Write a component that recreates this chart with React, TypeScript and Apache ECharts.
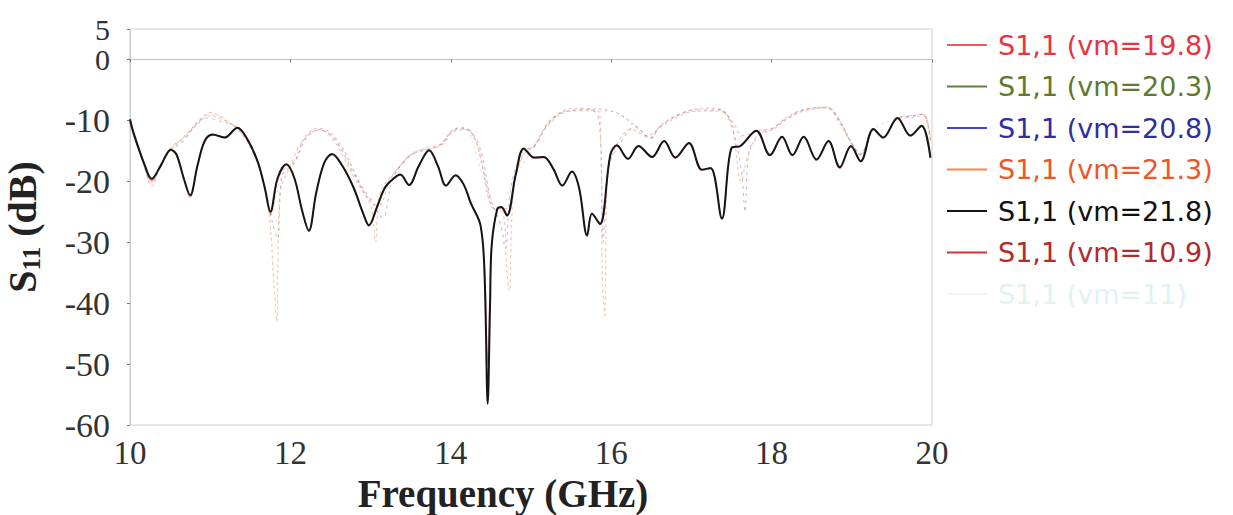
import React, { useEffect, useRef } from "react";
import * as echarts from "echarts";

// ---- data (frequency GHz, S11 dB) ----
const xTicks = [10, 12, 14, 16, 18, 20];
const yTicks = [-60, -50, -40, -30, -20, -10];
const yTopTicks = [0, 5];

const s11_vm198: [number, number][] = [
  [10.0, -10.5], [10.05, -12.3], [10.18, -17.5], [10.27, -20.8], [10.38, -17.3], [10.51, -14.5], [10.64, -13.1],
  [10.76, -11.5], [10.88, -9.8], [11.0, -8.7], [11.12, -9.3], [11.25, -10.5], [11.34, -11.2], [11.46, -13.0],
  [11.59, -16.7], [11.68, -21.0], [11.76, -25.5], [11.84, -20.0], [11.92, -18.0], [12.05, -16.7], [12.19, -12.5],
  [12.36, -11.3], [12.5, -12.0], [12.65, -14.5], [12.8, -18.5], [12.95, -22.5], [13.1, -24.0], [13.25, -19.5],
  [13.4, -17.0], [13.5, -15.6], [13.7, -14.5], [13.87, -13.9], [14.04, -11.4], [14.16, -11.2], [14.3, -13.0],
  [14.42, -19.0], [14.55, -24.5], [14.7, -24.5], [14.81, -18.9], [14.92, -15.5], [15.04, -14.2], [15.2, -10.6],
  [15.41, -8.4], [15.6, -8.0], [15.74, -8.1], [15.99, -8.4], [16.2, -9.8], [16.35, -11.5], [16.49, -12.8],
  [16.61, -10.9], [16.86, -8.9], [17.03, -8.2], [17.2, -8.0], [17.36, -8.2], [17.5, -10.0], [17.65, -12.5],
  [17.81, -11.7], [18.02, -11.2], [18.19, -9.5], [18.4, -8.2], [18.69, -7.8], [18.85, -10.0], [18.99, -13.5],
  [19.11, -15.5], [19.27, -11.4], [19.39, -12.8], [19.57, -9.6], [19.77, -9.2], [19.89, -8.9], [19.98, -13.0],
];

const s11_vm203: [number, number][] = [
  [10.0, -10.3], [10.15, -16.5], [10.27, -20.0], [10.45, -15.5], [10.64, -13.4], [10.85, -10.2], [11.0, -9.0],
  [11.34, -11.2], [11.59, -16.5], [11.76, -24.5], [11.92, -18.2], [12.19, -12.8], [12.36, -11.5], [12.7, -16.0],
  [13.0, -23.0], [13.25, -19.6], [13.5, -15.8], [13.87, -14.0], [14.04, -11.5], [14.16, -11.3], [14.4, -19.0],
  [14.6, -25.0], [14.81, -19.0], [15.04, -14.4], [15.2, -10.8], [15.41, -8.5], [15.99, -8.5], [16.49, -12.9],
  [16.61, -11.0], [16.86, -9.0], [17.36, -8.3], [17.65, -12.8], [18.02, -11.3], [18.4, -8.3], [18.69, -7.9],
  [18.99, -13.6], [19.11, -15.6], [19.27, -11.5], [19.57, -9.7], [19.89, -9.0], [19.98, -13.1],
];

const s11_vm208: [number, number][] = [
  [10.0, -10.2], [10.12, -15.0], [10.27, -19.8], [10.4, -17.0], [10.53, -14.6], [10.66, -13.5], [10.8, -11.0],
  [10.95, -9.6], [11.1, -10.0], [11.34, -11.3], [11.55, -15.8], [11.7, -22.0], [11.78, -27.0], [11.84, -29.4],
  [11.9, -19.0], [12.05, -17.0], [12.2, -12.8], [12.36, -11.6], [12.55, -13.0], [12.8, -19.0], [13.0, -23.0],
  [13.15, -26.0], [13.28, -19.5], [13.5, -15.8], [13.87, -14.0], [14.04, -11.6], [14.18, -11.4], [14.35, -14.0],
  [14.5, -23.0], [14.62, -27.0], [14.68, -31.0], [14.75, -21.0], [14.9, -15.0], [15.04, -14.3], [15.2, -10.8],
  [15.41, -8.6], [15.74, -8.2], [15.85, -10.0], [15.9, -30.0], [15.96, -18.0], [16.1, -14.0], [16.3, -11.0],
  [16.49, -13.0], [16.61, -11.0], [16.86, -9.0], [17.03, -8.3], [17.36, -8.3], [17.5, -11.0], [17.62, -18.0],
  [17.67, -25.0], [17.72, -15.0], [17.85, -12.5], [18.02, -11.3], [18.19, -9.6], [18.4, -8.3], [18.69, -7.9],
  [18.85, -10.2], [18.99, -13.6], [19.11, -15.6], [19.27, -11.5], [19.39, -12.9], [19.57, -9.7], [19.77, -9.3],
  [19.89, -9.0], [19.98, -13.2],
];

const s11_vm213: [number, number][] = [
  [10.0, -10.8], [10.1, -14.0], [10.27, -20.2], [10.4, -16.8], [10.55, -14.2], [10.7, -12.5], [10.85, -10.5],
  [11.0, -9.2], [11.2, -10.2], [11.34, -11.4], [11.55, -15.5], [11.72, -24.0], [11.8, -38.0], [11.83, -43.0],
  [11.87, -22.0], [12.0, -17.5], [12.15, -13.5], [12.36, -11.5], [12.55, -13.5], [12.8, -19.5], [13.0, -24.0],
  [13.06, -30.0], [13.12, -22.0], [13.3, -18.5], [13.55, -15.2], [13.87, -14.2], [14.04, -11.8], [14.2, -11.5],
  [14.35, -15.0], [14.5, -24.0], [14.65, -25.0], [14.7, -35.0], [14.73, -38.0], [14.78, -22.0], [14.9, -15.5],
  [15.05, -14.0], [15.2, -11.0], [15.4, -8.8], [15.7, -8.3], [15.86, -9.0], [15.89, -36.0], [15.92, -42.0],
  [15.95, -20.0], [16.05, -14.5], [16.25, -11.5], [16.45, -12.5], [16.61, -11.2], [16.86, -9.2], [17.03, -8.5],
  [17.36, -8.5], [17.5, -10.5], [17.62, -20.0], [17.7, -16.0], [17.85, -12.0], [18.02, -11.5], [18.19, -9.8],
  [18.4, -8.5], [18.69, -8.0], [18.85, -10.5], [19.0, -13.8], [19.11, -15.8], [19.27, -11.6], [19.39, -13.0],
  [19.57, -9.8], [19.77, -9.5], [19.89, -9.2], [19.98, -13.5],
];

const s11_vm218: [number, number][] = [
  [10.0, -9.8], [10.05, -12.3], [10.18, -17.2], [10.27, -19.6], [10.38, -17.5], [10.51, -14.8], [10.58, -15.6],
  [10.67, -19.5], [10.75, -22.3], [10.84, -17.5], [10.93, -13.4], [11.03, -12.3], [11.18, -12.8], [11.34, -11.2],
  [11.46, -13.0], [11.59, -16.7], [11.68, -21.0], [11.75, -25.0], [11.84, -19.5], [11.95, -17.2], [12.05, -19.5],
  [12.15, -25.0], [12.23, -28.1], [12.32, -22.0], [12.42, -17.0], [12.52, -15.5], [12.65, -17.5], [12.79, -21.1],
  [12.9, -25.0], [12.98, -27.2], [13.08, -24.2], [13.18, -21.0], [13.29, -19.5], [13.37, -18.9], [13.48, -20.6],
  [13.6, -17.5], [13.73, -14.9], [13.84, -17.5], [13.94, -20.7], [14.06, -19.0], [14.16, -20.5], [14.25, -23.6],
  [14.37, -27.2], [14.42, -35.0], [14.46, -56.5], [14.49, -40.0], [14.51, -30.5], [14.58, -24.5], [14.63, -24.2],
  [14.7, -25.6], [14.81, -18.9], [14.91, -14.6], [15.04, -16.1], [15.16, -16.0], [15.28, -18.0], [15.39, -20.7],
  [15.51, -18.4], [15.6, -21.1], [15.7, -28.9], [15.76, -25.3], [15.86, -27.0], [15.99, -15.6], [16.07, -14.1],
  [16.21, -16.3], [16.34, -14.2], [16.51, -16.0], [16.66, -13.4], [16.8, -16.1], [16.97, -13.7], [17.13, -18.1],
  [17.24, -17.8], [17.38, -26.1], [17.5, -14.5], [17.61, -14.2], [17.81, -11.7], [17.98, -15.7], [18.13, -12.7],
  [18.26, -15.7], [18.4, -12.7], [18.56, -16.4], [18.71, -13.4], [18.85, -17.7], [18.99, -14.2], [19.11, -16.7],
  [19.27, -11.4], [19.39, -12.8], [19.57, -9.6], [19.73, -12.5], [19.87, -10.9], [19.98, -16.1],
];

const s11_vm109: [number, number][] = [
  [10.0, -10.2], [10.05, -12.6], [10.18, -17.4], [10.27, -19.9], [10.38, -17.6], [10.51, -14.9], [10.58, -15.8],
  [10.67, -19.6], [10.75, -22.6], [10.84, -17.6], [10.93, -13.6], [11.03, -12.4], [11.18, -12.9], [11.34, -11.3],
  [11.46, -13.1], [11.59, -16.8], [11.68, -21.2], [11.75, -25.4], [11.84, -19.7], [11.95, -17.3], [12.05, -19.6],
  [12.15, -25.1], [12.23, -28.2], [12.32, -22.1], [12.42, -17.1], [12.52, -15.6], [12.65, -17.6], [12.79, -21.2],
  [12.9, -25.1], [12.98, -27.4], [13.08, -24.3], [13.18, -21.1], [13.29, -19.6], [13.37, -19.0], [13.48, -20.7],
  [13.6, -17.6], [13.73, -15.0], [13.84, -17.6], [13.94, -20.8], [14.06, -19.1], [14.16, -20.6], [14.25, -23.7],
  [14.37, -27.3], [14.42, -34.0], [14.46, -50.0], [14.49, -38.0], [14.51, -30.3], [14.58, -24.6], [14.63, -24.3],
  [14.7, -25.7], [14.81, -19.0], [14.91, -14.7], [15.04, -16.2], [15.16, -16.1], [15.28, -18.1], [15.39, -20.8],
  [15.51, -18.5], [15.6, -21.2], [15.7, -29.0], [15.76, -25.4], [15.86, -27.1], [15.99, -15.7], [16.07, -14.2],
  [16.21, -16.4], [16.34, -14.3], [16.51, -16.1], [16.66, -13.5], [16.8, -16.2], [16.97, -13.8], [17.13, -18.2],
  [17.24, -17.9], [17.38, -26.3], [17.5, -14.6], [17.61, -14.3], [17.81, -11.8], [17.98, -15.8], [18.13, -12.8],
  [18.26, -15.8], [18.4, -12.8], [18.56, -16.6], [18.71, -13.5], [18.85, -17.9], [18.99, -14.3], [19.11, -16.8],
  [19.27, -11.5], [19.39, -12.9], [19.57, -9.7], [19.73, -12.6], [19.87, -11.0], [19.98, -16.2],
];

const s11_vm11: [number, number][] = [];

const seriesNames = [
  "S1,1 (vm=19.8)",
  "S1,1 (vm=20.3)",
  "S1,1 (vm=20.8)",
  "S1,1 (vm=21.3)",
  "S1,1 (vm=21.8)",
  "S1,1 (vm=10.9)",
  "S1,1 (vm=11)",
];
const seriesData = [s11_vm198, s11_vm203, s11_vm208, s11_vm213, s11_vm218, s11_vm109, s11_vm11];
const lineColors = ["#ee5a5a", "#5f7f45", "#4545c0", "#f28a40", "#151515", "#c83838", "#eef7f9"];
const textColors = ["#e8343f", "#5f7a2e", "#2f2f9f", "#e8582a", "#111111", "#b22a2a", "#e2f1f4"];
const lineOpacity = [0.4, 0.25, 0.35, 0.45, 1, 0.5, 0.3];
const lineWidths = [1.2, 1, 1.1, 1.2, 2, 1.3, 1];
const lineTypes: any[] = [[3, 3], [2, 4], [3, 4], [3, 3], "solid", "solid", "solid"];

export default function App() {
  const ref = useRef<HTMLDivElement>(null);
  useEffect(() => {
    if (!ref.current) return;
    const chart = echarts.init(ref.current, undefined, { renderer: "svg" });
    const serif = "'Liberation Serif', 'Times New Roman', serif";
    const yLabelStyle = {
      margin: 20,
      fontFamily: serif,
      fontSize: 34,
      lineHeight: 20,
      color: "#333",
      showMaxLabel: true,
      showMinLabel: true,
      hideOverlap: false,
      formatter: (v: number) => String(v),
    };
    chart.setOption({
      animation: false,
      backgroundColor: "#ffffff",
      grid: {
        left: 130,
        right: 301,
        top: 29,
        bottom: 90,
        show: true,
        borderColor: "#cfcfcf",
        borderWidth: 1,
        outerBoundsMode: "none",
        containLabel: false,
      },
      legend: {
        orient: "vertical",
        left: 942,
        top: 25,
        icon: "rect",
        itemWidth: 40,
        itemHeight: 2,
        itemGap: 11.5,
        data: seriesNames.map((n, i) => ({
          name: n,
          textStyle: { color: textColors[i] },
        })),
        textStyle: {
          fontFamily: "'DejaVu Sans', sans-serif",
          fontSize: 27,
          lineHeight: 30,
          padding: [0, 0, 0, 6],
        },
      },
      xAxis: {
        type: "value",
        min: 10,
        max: 20,
        interval: 2,
        name: "Frequency (GHz)",
        nameLocation: "middle",
        nameGap: 50,
        nameMoveOverlap: false,
        nameTextStyle: {
          fontFamily: serif,
          fontWeight: "bold",
          fontSize: 39,
          lineHeight: 36,
          color: "#222",
          padding: [0, 56, 0, 0],
        },
        axisLine: { show: true, lineStyle: { color: "#b5b5b5", type: "dotted", width: 1 } },
        axisTick: { show: true, length: 3, lineStyle: { color: "#777" } },
        splitLine: { show: false },
        axisLabel: {
          margin: 16,
          fontFamily: serif,
          fontSize: 33,
          lineHeight: 24,
          color: "#333",
          formatter: (v: number) => (xTicks.includes(v) ? String(v) : ""),
        },
      },
      yAxis: [
        {
          type: "value",
          min: -60,
          max: 5,
          interval: 10,
          name: "{s|S}{sub|11}{s| (dB)}",
          nameLocation: "middle",
          nameGap: 86,
          nameMoveOverlap: false,
          nameTextStyle: {
            rich: {
              s: { fontFamily: serif, fontWeight: "bold", fontSize: 40, color: "#222" },
              sub: {
                fontFamily: serif,
                fontWeight: "bold",
                fontSize: 25,
                color: "#222",
                padding: [18, 0, 0, 0],
              },
            },
          },
          axisLine: { show: true, lineStyle: { color: "#c8c8c8", type: "dotted", width: 1 } },
          axisTick: { show: true, length: 3, customValues: yTicks, lineStyle: { color: "#777" } },
          splitLine: { show: false },
          axisLabel: { ...yLabelStyle, customValues: yTicks },
        },
        {
          type: "value",
          position: "left",
          min: -60,
          max: 5,
          interval: 10,
          axisLine: { show: false },
          axisTick: { show: true, length: 3, customValues: yTopTicks, lineStyle: { color: "#777" } },
          splitLine: { show: false },
          axisLabel: { ...yLabelStyle, fontSize: 30, customValues: yTopTicks },
        },
      ],
      series: seriesNames.map((n, i) => ({
        name: n,
        type: "line",
        data: seriesData[i],
        yAxisIndex: 0,
        symbol: "none",
        smooth: 0.35,
        z: i === 4 ? 10 : 2 + i * 0.1,
        itemStyle: { color: lineColors[i] },
        lineStyle: {
          color: lineColors[i],
          width: lineWidths[i],
          opacity: lineOpacity[i],
          type: lineTypes[i],
        },
      })),
    });
    return () => chart.dispose();
  }, []);
  return (
    <div
      ref={ref}
      style={{ position: "absolute", left: 0, top: 0, width: 1233, height: 515 }}
    />
  );
}
